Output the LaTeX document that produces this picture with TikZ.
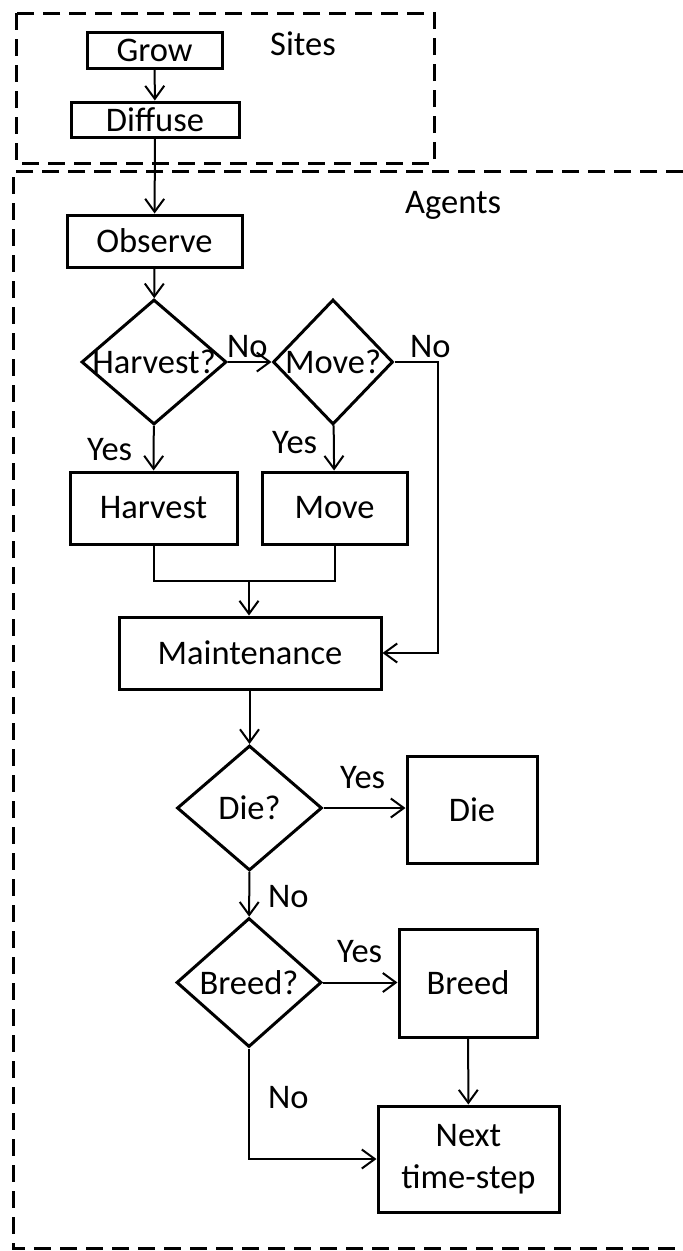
\documentclass[tikz,border=0pt]{standalone}
\usepackage{fontspec}
\setmainfont{Carlito}
\usetikzlibrary{arrows.meta,shapes.geometric}

\begin{document}
\begin{tikzpicture}[x=1pt, y=-1pt, font=\fontsize{34.5}{42}\selectfont,
box/.style={rectangle, draw=black, line width=3pt, inner sep=0pt, align=center},
decision/.style={diamond, draw=black, line width=3pt, inner sep=0pt, minimum width=145pt, minimum height=125pt},
group/.style={draw=black, line width=3pt, dash pattern=on 17pt off 9pt},
link/.style={draw=black, line width=2pt},
flow/.style={link, -{Straight Barb[length=13pt, width=19pt]}},
tag/.style={anchor=base west, inner sep=0pt}]

\path[use as bounding box] (0,0) rectangle (683,1251);

\draw[group] (16,13) rectangle (434,163);
\draw[group] (683,171) -| (13,1248) -- (683,1248);

\node [tag] (sites) at (270,55) {Sites};
\node [tag] (agents) at (405,213) {Agents};

\node [box, minimum width=135pt, minimum height=36pt] (grow) at (154.5,50) {Grow};

\node [box, minimum width=168pt, minimum height=35pt] (diffuse) at (155,119.5) {Diffuse};

\node [box, minimum width=175pt, minimum height=52pt] (observe) at (154.5,241) {Observe};

\node [decision] (harvq) at (154,362) {\makebox[0pt]{Harvest?}};

\node [decision, minimum width=120pt] (moveq) at (333,362) {\makebox[0pt]{Move?}};

\node [box, minimum width=167pt, minimum height=72pt] (harvest) at (153.5,508) {Harvest};

\node [box, minimum width=145pt, minimum height=72pt] (move) at (334.5,508) {Move};

\node [box, minimum width=262pt, minimum height=72pt] (maint) at (250,653) {Maintenance};

\node [decision] (dieq) at (249.5,808) {\makebox[0pt]{Die?}};

\node [box, minimum width=130pt, minimum height=107pt] (die) at (472,809.5) {Die};

\node [decision, minimum height=129pt] (breedq) at (249,982.5) {\makebox[0pt]{Breed?}};

\node [box, minimum width=138pt, minimum height=108pt] (breed) at (468,983) {Breed};

\node [box, minimum width=181pt, minimum height=106pt] (next) at (468.5,1159) {Next\\time-step};

\coordinate (turn) at (438,362);
\coordinate (join) at (249,581);

\draw[flow] (grow) -- (diffuse);
\draw[flow] (diffuse) -- (observe);
\draw[flow] (observe) -- (harvq);
\draw[flow] (harvq.east) -- (moveq.west);
\draw[flow] (harvq) -- (harvest);
\draw[flow] (moveq) -- (move);
\draw[flow] (moveq.east) -- (turn) |- (maint.east);
\draw[link] (harvest.south) |- (join) -| (move.south);
\draw[flow] (join) -- (join |- maint.north);
\draw[flow] (maint.south -| dieq) -- (dieq.north);
\draw[flow] (dieq.east) -- (dieq.east -| die.west);
\draw[flow] (dieq) -- (breedq);
\draw[flow] (breedq.east) -- (breedq.east -| breed.west);
\draw[flow] (breed) -- (next);
\draw[flow] (breedq.south) |- (next.west);

\node [tag] at (227,357) {No};
\node [tag] at (410,357) {No};
\node [tag] at (87,460) {Yes};
\node [tag] at (272,453) {Yes};
\node [tag] at (340,788) {Yes};
\node [tag] at (268,907) {No};
\node [tag] at (337,962) {Yes};
\node [tag] at (268,1108) {No};

\end{tikzpicture}
\end{document}
